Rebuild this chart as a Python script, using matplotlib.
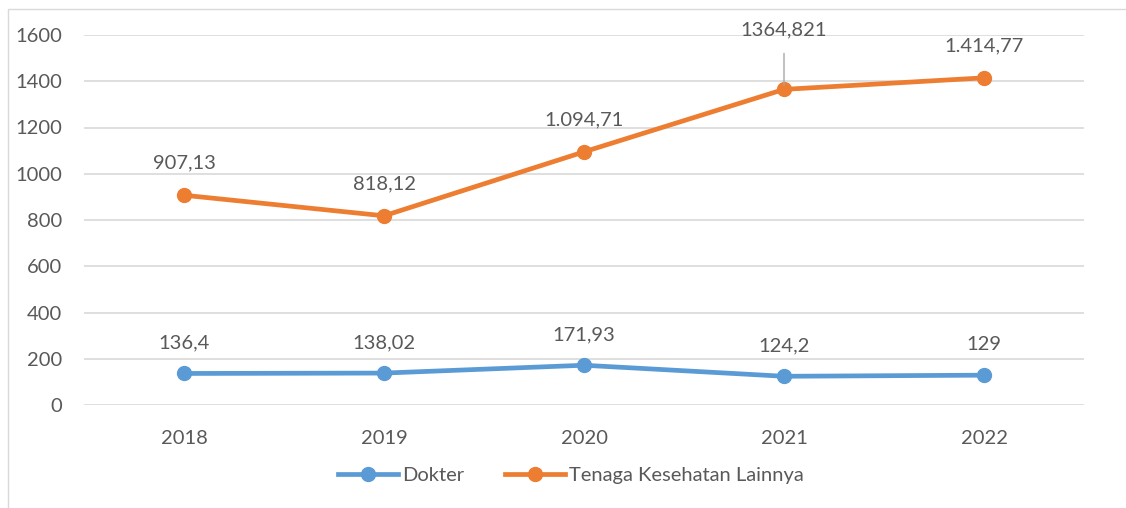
import matplotlib
matplotlib.use('Agg')
import matplotlib.pyplot as plt
from matplotlib.patches import Rectangle

years = ["2018", "2019", "2020", "2021", "2022"]
dokter = [136.4, 138.02, 171.93, 124.2, 129]
nakes = [907.13, 818.12, 1094.71, 1364.821, 1414.77]
dokter_labels = ["136,4", "138,02", "171,93", "124,2", "129"]
nakes_labels = ["907,13", "818,12", "1.094,71", "1364,821", "1.414,77"]

blue = "#5B9BD5"
orange = "#ED7D31"
txt = "#595959"
grid = "#D9D9D9"
fs = 14.5

plt.rcParams['font.family'] = ['Lato', 'DejaVu Sans']

fig = plt.figure(figsize=(11.26, 5.08), dpi=100)
ax = fig.add_axes([84/1126, 1 - 405/508, 1000/1126, 370/508])

x = list(range(len(years)))
ax.plot(x, dokter, color=blue, lw=3.4, marker='o', ms=10, label="Dokter", zorder=3)
ax.plot(x, nakes, color=orange, lw=3.4, marker='o', ms=10, label="Tenaga Kesehatan Lainnya", zorder=3)

for i in x:
    ax.annotate(dokter_labels[i], (i, dokter[i]), xytext=(0, 22), textcoords='offset points',
                ha='center', va='center', fontsize=fs, color=txt)
    if i == 3:
        # label pushed up with a leader line
        ax.annotate(nakes_labels[i], (i, nakes[i]), xytext=(0, 43), textcoords='offset points',
                    ha='center', va='center', fontsize=fs, color=txt,
                    arrowprops=dict(arrowstyle='-', color='#A6A6A6', lw=1, shrinkA=9, shrinkB=3))
    else:
        ax.annotate(nakes_labels[i], (i, nakes[i]), xytext=(0, 23), textcoords='offset points',
                    ha='center', va='center', fontsize=fs, color=txt)

ax.set_xlim(-0.5, 4.5)
ax.set_ylim(0, 1600)
ax.set_yticks(range(0, 1601, 200))
ax.set_xticks(x)
ax.set_xticklabels(years)
ax.yaxis.grid(True, color=grid, lw=1.2)
ax.set_axisbelow(True)
for s in ax.spines.values():
    s.set_visible(False)
ax.tick_params(axis='both', length=0, labelsize=fs, labelcolor=txt)
ax.tick_params(axis='y', pad=16)
ax.tick_params(axis='x', pad=18)

fig.legend(loc='center', bbox_to_anchor=(0.507, 1 - 475/508), ncol=2, frameon=False,
           fontsize=fs, labelcolor=txt, handlelength=3, handletextpad=0.2, columnspacing=2)

# chart frame (left and top edges visible)
fig.add_artist(Rectangle((8/1126, -0.1), 1.2, 1 - 9/508 + 0.1, transform=fig.transFigure,
                         fill=False, edgecolor=grid, lw=1))

fig.savefig("out.png", dpi=100)
